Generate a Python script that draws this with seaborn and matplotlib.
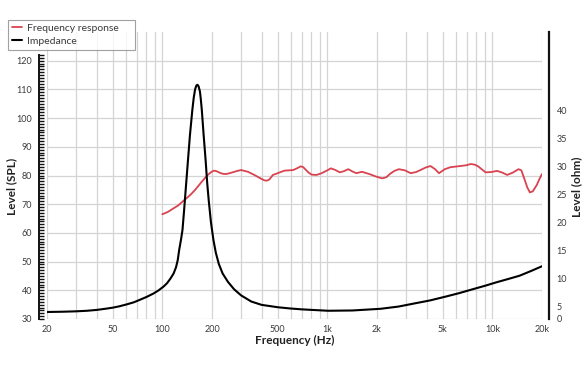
import numpy as np
import matplotlib
matplotlib.use("Agg")
import matplotlib.pyplot as plt
from matplotlib.ticker import FixedLocator, LogLocator, NullFormatter
import seaborn as sns

# frequency response (SPL, left axis)
spl_freq = [100, 108, 115, 125, 135, 143, 150, 158, 165, 172, 180, 186, 192, 199, 206,
            213, 222, 232, 243, 256, 270, 285, 300, 330, 361, 390, 416, 430, 445, 468,
            490, 510, 551, 620, 655, 690, 715, 740, 770, 803, 860, 924, 1000, 1051,
            1120, 1190, 1260, 1340, 1420, 1500, 1620, 1800, 1980, 2150, 2280, 2400,
            2550, 2715, 2950, 3200, 3450, 3700, 3950, 4220, 4500, 4750, 5150, 5580,
            6400, 7000, 7390, 7800, 8200, 8700, 9100, 9800, 10700, 11500, 12300,
            13300, 14400, 15000, 15600, 16300, 16900, 17600, 18600, 19300, 20000]
spl_level = [66.5, 67.3, 68.3, 69.6, 71.3, 72.5, 73.6, 75.0, 76.3, 77.6, 78.9, 79.9,
             80.6, 81.3, 81.7, 81.5, 81.0, 80.6, 80.5, 80.8, 81.2, 81.6, 81.9, 81.3,
             80.2, 79.1, 78.3, 78.2, 78.6, 80.2, 80.6, 81.0, 81.7, 81.9, 82.5, 83.2,
             82.9, 82.0, 81.0, 80.3, 80.2, 80.8, 81.8, 82.5, 81.9, 81.1, 81.5, 82.2,
             81.4, 80.8, 81.3, 80.5, 79.6, 79.0, 79.4, 80.6, 81.6, 82.2, 81.8, 80.8,
             81.2, 82.0, 82.8, 83.3, 82.2, 80.8, 82.2, 82.9, 83.3, 83.6, 84.0, 83.8,
             83.2, 82.0, 81.1, 81.2, 81.6, 81.0, 80.2, 81.0, 82.2, 81.8, 79.0, 75.8,
             74.1, 74.5, 76.7, 78.8, 80.5]

# impedance (ohm, right axis)
imp_freq = [20, 25, 30, 35, 40, 45, 50, 55, 61, 67, 73, 80, 88, 95, 102, 107, 112,
            117, 121, 124, 126.5, 130, 132.5, 135, 137, 140, 143, 147, 152, 155, 158,
            161, 163.5, 166, 169, 171, 173.5, 178, 183, 187, 191, 197, 204, 211, 220,
            232, 250, 272, 300, 346, 400, 503, 600, 700, 1010, 1420, 2100, 2700, 3430,
            4200, 5250, 6300, 7620, 9000, 10500, 12400, 14600, 17000, 20000]
imp_ohm = [3.93, 3.98, 4.05, 4.15, 4.3, 4.5, 4.7, 4.95, 5.3, 5.65, 6.1, 6.6, 7.2, 7.8,
           8.5, 9.1, 9.9, 10.8, 11.9, 13.2, 15.0, 17.0, 18.6, 21.5, 23.9, 27.5, 31.0,
           35.5, 40.0, 42.2, 43.7, 44.4, 44.5, 44.2, 43.3, 42.0, 40.0, 35.5, 31.0,
           27.0, 23.9, 20.0, 16.8, 14.5, 12.5, 10.8, 9.3, 8.0, 6.9, 5.8, 5.2, 4.77,
           4.55, 4.4, 4.15, 4.2, 4.5, 4.9, 5.5, 6.0, 6.7, 7.3, 8.0, 8.6, 9.2, 9.8,
           10.4, 11.2, 12.1]

x_ticks = [20, 50, 100, 200, 500, 1000, 2000, 5000, 10000, 20000]
x_tick_labels = ["20", "50", "100", "200", "500", "1k", "2k", "5k", "10k", "20k"]
spl_ticks = list(range(30, 121, 10))
ohm_ticks = [5, 10, 15, 20, 25, 30, 35, 40]
ohm_tick_labels = ["0"] + [str(t) for t in ohm_ticks]

RED = "#d9434f"
GRID = "#d4d4d4"
TXT = "#3a3a3a"

sns.set_theme(style="white")
plt.rcParams["font.family"] = ["Lato", "DejaVu Sans"]

W, H = 588, 372
fig = plt.figure(figsize=(W / 100, H / 100), dpi=100)
ax = fig.add_axes([47 / W, 1 - 319 / H, 495 / W, 287 / H])
ax.set_xscale("log")
ax2 = ax.twinx()

sns.lineplot(x=spl_freq, y=spl_level, ax=ax, color=RED, lw=1.3, sort=True, zorder=3)
sns.lineplot(x=imp_freq, y=imp_ohm, ax=ax2, color="black", lw=1.5, sort=True, zorder=3)

# x axis
ax.set_xlim(20, 20000)
ax.xaxis.set_major_locator(FixedLocator(x_ticks))
ax.set_xticklabels(x_tick_labels)
ax.xaxis.set_minor_locator(LogLocator(base=10, subs=range(1, 10)))
ax.xaxis.set_minor_formatter(NullFormatter())
ax.tick_params(axis="x", which="both", length=0, labelsize=6.5, labelcolor=TXT, pad=4)

# left axis
ax.set_ylim(30, 130)
ax.set_yticks(spl_ticks)
ax.yaxis.set_minor_locator(FixedLocator(np.arange(30, 123, 1)))
ax.tick_params(axis="y", which="both", direction="in", length=3.8, width=1.0,
               color="#111111", labelsize=6.5, labelcolor=TXT, pad=4.5, left=True)
ax.grid(True, which="both", axis="x", color=GRID, lw=0.9)
ax.grid(True, which="major", axis="y", color=GRID, lw=0.9)
ax.set_axisbelow(True)
for s in ["top", "bottom", "right"]:
    ax.spines[s].set_visible(False)
ax.spines["left"].set_position(("outward", 6))
ax.spines["left"].set_bounds(30, 122)
ax.spines["left"].set_color("#111111")
ax.spines["left"].set_linewidth(1.4)

# right axis
lo = 5 - 13 / 5.6
ax2.set_ylim(lo, 5 + 274 / 5.6)
ax2.set_yticks([lo] + ohm_ticks)
ax2.set_yticklabels(ohm_tick_labels)
ax2.tick_params(axis="y", length=0, labelsize=6.5, labelcolor=TXT, pad=5.5)
for lbl in ax2.get_yticklabels():
    lbl.set_horizontalalignment("right")
for s in ["top", "bottom", "left"]:
    ax2.spines[s].set_visible(False)
ax2.spines["right"].set_position(("outward", 5))
ax2.spines["right"].set_color("#111111")
ax2.spines["right"].set_linewidth(1.6)
ax2.grid(False)

# labels
lab = dict(fontsize=8.5, fontweight="bold", color="#222222")
ax.set_xlabel("Frequency (Hz)", **lab)
ax.xaxis.set_label_coords(0.5, -0.055)
ax.set_ylabel("Level (SPL)", **lab)
ax.yaxis.set_label_coords(-0.0596, 0.463)
ax2.set_ylabel("Level (ohm)", **lab)
ax2.yaxis.set_label_coords(1.0586, 0.46)

# legend
handles = [plt.Line2D([], [], color=RED, lw=1.3), plt.Line2D([], [], color="black", lw=1.5)]
leg = fig.legend(handles, ["Frequency response", "Impedance"], loc="upper left",
                 bbox_to_anchor=(8 / W, 1 - 54 / H, 127 / W, 34 / H), mode="expand",
                 fontsize=7.5, frameon=True, fancybox=False, borderpad=0.35,
                 handlelength=1.0, handletextpad=0.45, labelspacing=0.35,
                 borderaxespad=0)
leg.get_frame().set_edgecolor("#8a8a8a")
leg.get_frame().set_linewidth(0.8)
for t in leg.get_texts():
    t.set_color(TXT)

fig.savefig("out.png", dpi=100)
